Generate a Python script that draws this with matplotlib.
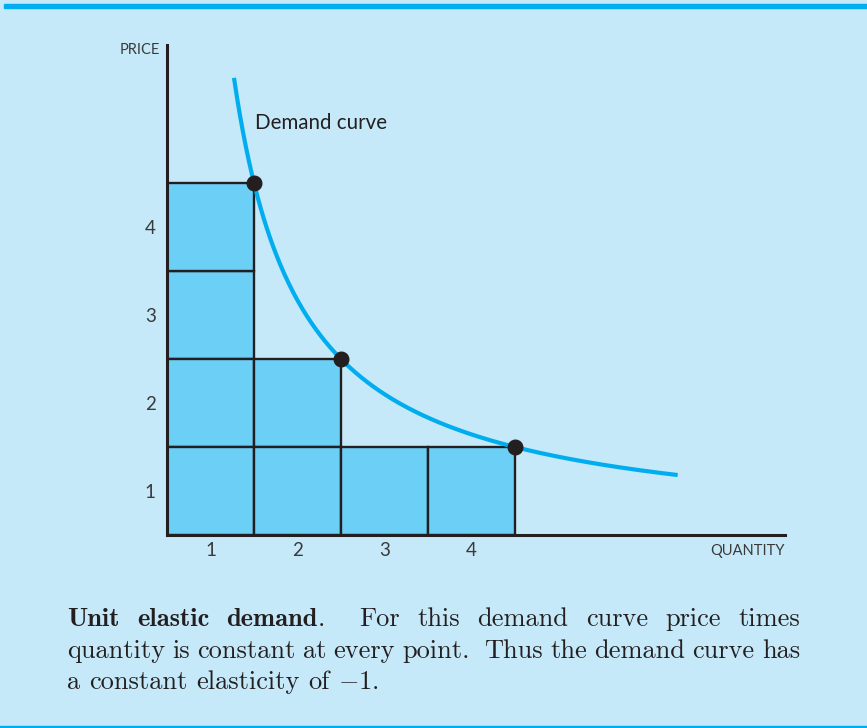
import re

import matplotlib

matplotlib.use("Agg")
import matplotlib.pyplot as plt
import numpy as np
from matplotlib.patches import Rectangle

# ---- data ----
QUANTITY = [1, 2, 4]          # the three marked points on the curve
PRICE = [4, 2, 1]
CURVE_Q = (0.77, 5.87)        # visible extent of the demand curve
TICK_POS = [0.5, 1.5, 2.5, 3.5]
TICK_LABELS = ["1", "2", "3", "4"]
CAPTION = [
    "**Unit** **elastic** **demand**.  For this demand curve price times",
    "quantity is constant at every point.  Thus the demand curve has",
    "a constant elasticity of $-1$.",
]

W, H = 867, 728
BG, BAR, BLUE, INK, GREY = "#c6e9f9", "#6ccff6", "#00aeef", "#231f20", "#3a3a3a"
plt.rcParams["mathtext.fontset"] = "cm"

fig = plt.figure(figsize=(W / 100, H / 100), dpi=100, facecolor=BG)
# top band and bottom rule of the box
fig.patches.append(Rectangle((4 / W, 1 - 8 / H), 1, 4 / H, transform=fig.transFigure,
                             color=BLUE, zorder=0))
fig.patches.append(Rectangle((0, 0), 1, 2.5 / H, transform=fig.transFigure,
                             color=BLUE, zorder=0))

ax = fig.add_axes([167 / W, 193 / H, 7.1 * 87 / W, 5.57 * 88 / H])
ax.set_facecolor("none")
ax.set_xlim(0, 7.1)
ax.set_ylim(0, 5.57)
for side in ("top", "right"):
    ax.spines[side].set_visible(False)
for side in ("left", "bottom"):
    ax.spines[side].set_linewidth(2.2)
    ax.spines[side].set_color(INK)
    ax.spines[side].set_zorder(5)

ax.set_xticks(TICK_POS, TICK_LABELS)
ax.set_yticks(TICK_POS, TICK_LABELS)
ax.tick_params(axis="x", length=0, pad=5, labelsize=13.5, labelcolor=GREY)
ax.tick_params(axis="y", length=0, pad=8, labelsize=13.5, labelcolor=GREY)
for lab in ax.get_xticklabels() + ax.get_yticklabels():
    lab.set_fontfamily("Lato")

# unit squares making up each price x quantity rectangle
for q, p in zip(QUANTITY, PRICE):
    for i in range(q):
        for j in range(p):
            ax.add_patch(Rectangle((i, j), 1, 1, fc=BAR, ec=INK, lw=1.7, zorder=2))

# demand curve: price * quantity constant (taken from the marked points)
k = PRICE[0] * QUANTITY[0]
qq = np.linspace(CURVE_Q[0], CURVE_Q[1], 300)
ax.plot(qq, k / qq, color=BLUE, lw=3.0, solid_capstyle="butt", zorder=3, clip_on=False)
ax.plot(QUANTITY, PRICE, "o", color=INK, ms=10.5, zorder=4, clip_on=False)

ax.text(1.01, 4.68, "Demand curve", fontsize=14.8, family="Lato", color=INK, va="center")
ax.text(-0.08, 5.51, "PRICE", fontsize=10.5, family="Lato", color=GREY,
        ha="right", va="center")
ax.text(7.1, -0.18, "QUANTITY", fontsize=10.5, family="Lato", color=GREY,
        ha="right", va="center")

# ---- justified caption ----
renderer = fig.canvas.get_renderer()
X0, X1, FS = 67, 800, 19
SPACE = 0.333 * FS * 100 / 72


def draw_line(line, y_px, justify):
    words, gaps, extra = [], [], 0
    for tok in line.split(" "):
        if tok == "":
            extra += 1
            continue
        if words:
            gaps.append(1 + extra)
        extra = 0
        words.append(tok)
    items = []
    for w in words:
        objs = []
        for s in [s for s in re.split(r"(\*\*[^*]+\*\*)", w) if s]:
            bold = s.startswith("**")
            t = fig.text(0, 1 - y_px / H, s.strip("*"), fontsize=FS, color=INK,
                         family="cmb10" if bold else "cmr10", va="baseline")
            objs.append((t, t.get_window_extent(renderer).width))
        items.append(objs)
    total = sum(wd for objs in items for _, wd in objs)
    unit = (X1 - X0 - total) / sum(gaps) if justify else SPACE
    x = X0
    for i, objs in enumerate(items):
        for t, wd in objs:
            t.set_x(x / W)
            x += wd
        if i < len(gaps):
            x += unit * gaps[i]


for n, (line, y) in enumerate(zip(CAPTION, (626, 658, 689))):
    draw_line(line, y, justify=n < len(CAPTION) - 1)

fig.savefig("out.png", dpi=100, facecolor=BG)
